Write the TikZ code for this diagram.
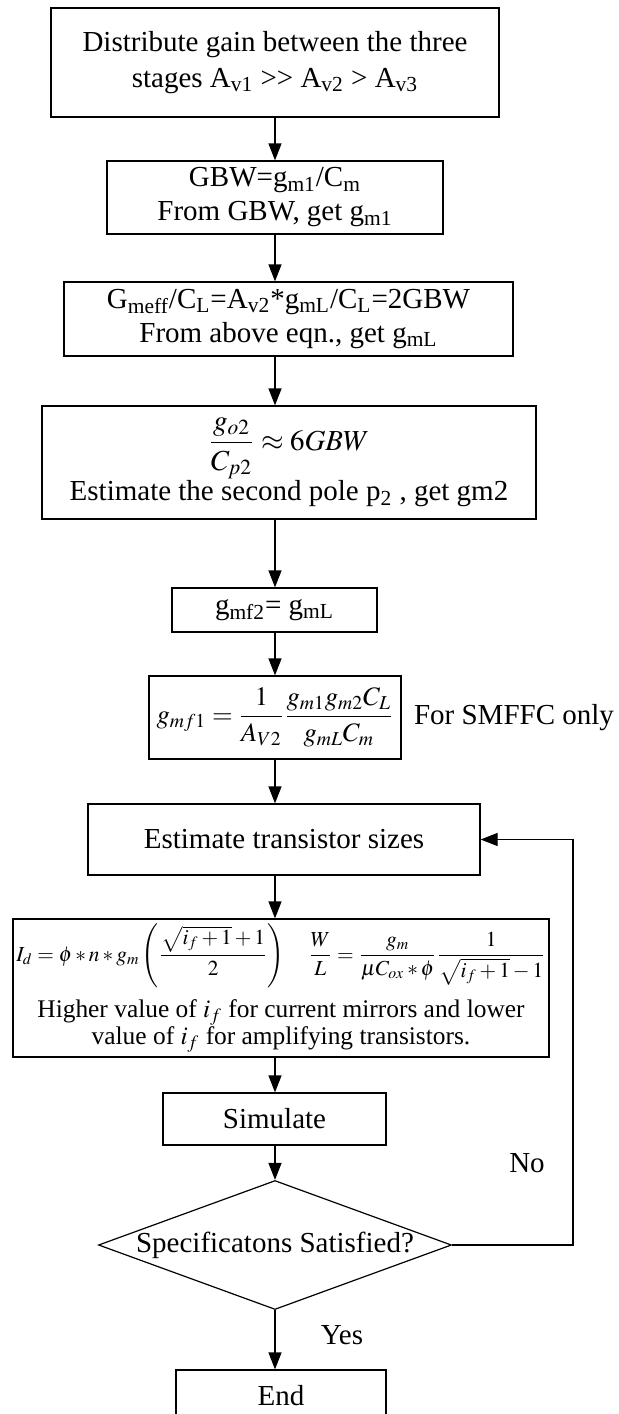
\documentclass[tikz,border=0pt]{standalone}
\usepackage{mathptmx}
\usepackage{fontspec}
\setmainfont{Liberation Serif}
\usetikzlibrary{shapes.geometric, arrows.meta, positioning}

\begin{document}
\begin{tikzpicture}[
    x=0.5pt, y=-0.5pt,
    font=\fontsize{14.5}{17}\selectfont,
    stage/.style={draw, line width=0.6pt, align=center, inner sep=0pt},
    decision/.style={draw, line width=0.6pt, diamond, aspect=2.74, inner sep=0pt, minimum width=176.5pt, minimum height=64.5pt},
    flow/.style={-{Triangle[length=8.5pt, width=6.5pt]}, line width=0.6pt}
]
    \useasboundingbox (0,0) rectangle (619,1414);
    \clip (0,0) rectangle (619,1414);
    \coordinate (spine) at (275,0);
    \coordinate (loop) at (573,0);

    \node[stage, minimum width=224pt, minimum height=54.5pt] (gain) at (275,62.5)
        {Distribute gain between the three\\[1pt] stages A\textsubscript{v1} >\kern0pt> A\textsubscript{v2} > A\textsubscript{v3}};
    \node[stage, minimum width=168pt, minimum height=36.5pt] (gbw) at (275,197.5)
        {GBW=g\textsubscript{m1}/C\textsubscript{m}\\ From GBW, get g\textsubscript{m1}};
    \node[stage, minimum width=224.5pt, minimum height=37pt] (gmeff) at (288.5,319)
        {G\textsubscript{meff}/C\textsubscript{L}=A\textsubscript{v2}*g\textsubscript{mL}/C\textsubscript{L}=2GBW\\ From above eqn., get g\textsubscript{mL}};
    \node[stage, minimum width=247pt, minimum height=56.5pt] (pole) at (289,462.5)
        {$\displaystyle\frac{g_{o2}}{C_{p2}}\approx 6GBW$\\ Estimate the second pole p\textsubscript{2} , get gm2};
    \node[stage, minimum width=102.5pt, minimum height=22pt] (gmftwo) at (274.5,610)
        {g\textsubscript{mf2}= g\textsubscript{mL}};
    \node[stage, minimum width=126pt, minimum height=41.5pt, font=\fontsize{13.3}{16}\selectfont] (gmfone) at (275,717.5)
        {$\displaystyle g_{mf1}=\frac{1}{A_{V2}}\frac{g_{m1}g_{m2}C_L}{g_{mL}C_m}$};
    \node (smffc) at (514,718) {For SMFFC only};
    \node[stage, minimum width=196pt, minimum height=35.5pt] (sizes) at (284,839.5)
        {Estimate transistor sizes};
    \node[stage, minimum width=268pt, minimum height=69pt, font=\fontsize{12.7}{13.5}\selectfont] (eqns) at (281,988)
        {{\fontsize{10.7}{12}\selectfont
          $\displaystyle I_d=\phi*n*g_m\left(\frac{\sqrt{i_f+1}+1}{2}\right)\quad
          \frac{W}{L}=\frac{g_m}{\mu C_{ox}*\phi}\frac{1}{\sqrt{i_f+1}-1}$}\\[5pt]
         Higher value of $i_f$ for current mirrors and lower\\
         value of $i_f$ for amplifying transistors.};
    \node[stage, minimum width=111.5pt, minimum height=26pt] (sim) at (274.5,1119) {Simulate};
    \node[decision] (spec) at (275,1245) {Specificatons Satisfied?};
    \node[stage, minimum width=105pt, minimum height=26pt] (done) at (281,1396) {End};
    \node (no) at (527,1163) {No};
    \node (yes) at (342,1335) {Yes};

    \draw[flow] (spine |- gain.south) -- (spine |- gbw.north);
    \draw[flow] (spine |- gbw.south) -- (spine |- gmeff.north);
    \draw[flow] (spine |- gmeff.south) -- (spine |- pole.north);
    \draw[flow] (spine |- pole.south) -- (spine |- gmftwo.north);
    \draw[flow] (spine |- gmftwo.south) -- (spine |- gmfone.north);
    \draw[flow] (spine |- gmfone.south) -- (spine |- sizes.north);
    \draw[flow] (spine |- sizes.south) -- (spine |- eqns.north);
    \draw[flow] (spine |- eqns.south) -- (spine |- sim.north);
    \draw[flow] (spine |- sim.south) -- (spec.north);
    \draw[flow] (spec.south) -- (spine |- done.north);
    \draw[flow] (spec.east) -| (loop |- sizes.east) -- (sizes.east);
\end{tikzpicture}
\end{document}
